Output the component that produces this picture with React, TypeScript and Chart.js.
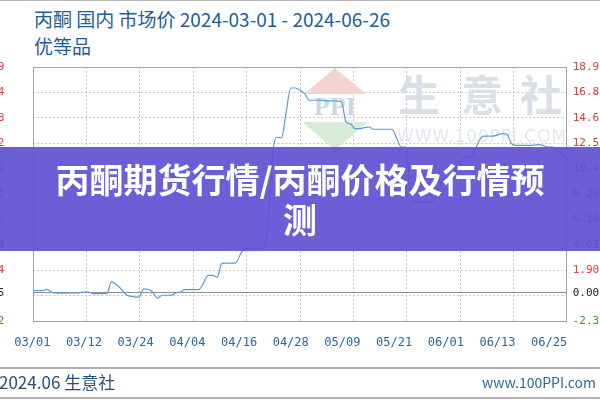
import React, { useEffect, useRef } from "react";
import { Chart, registerables } from "chart.js";

Chart.register(...registerables);

const titleLine1 = "丙酮 国内 市场价 2024-03-01 - 2024-06-26";
const titleLine2 = "优等品";
const bannerText = "丙酮期货行情/丙酮价格及行情预测";
const footerLeft = "2024.06 生意社";
const footerRight = "www.100PPI.com";
const watermarkChars = ["生", "意", "社"];
const watermarkUrl = "WWW.100PPI.COM";

// x-axis date labels (evenly laid out under the plot)
const dateLabels = ["03/01", "03/12", "03/24", "04/04", "04/16", "04/28", "05/09", "05/21", "06/01", "06/13", "06/25"];

// daily change vs. first day (%), 2024-03-01 .. 2024-06-25
const changePct = [
  0.19, 0.19, 0.19, 0.30, 0.05, -0.03, -0.02, -0.02, -0.01, -0.01,
  0.00, 0.07, 0.07, -0.06, -0.06, -0.06, -0.05, 0.95, 0.70, 0.38,
  -0.10, -0.28, -0.33, -0.35, 0.33, 0.30, 0.05, -0.45, -0.20, -0.20,
  -0.20, 0.00, 0.07, 0.27, 0.27, 0.27, 0.27, 0.80, 1.47, 1.47,
  1.30, 2.48, 2.50, 2.50, 2.50, 3.20, 3.71, 3.74, 3.74, 3.74,
  3.74, 5.50, 11.50, 13.05, 13.00, 15.20, 17.18, 17.18, 17.00, 16.70,
  16.15, 16.15, 16.15, 16.12, 16.10, 16.10, 16.08, 16.05, 14.33, 14.15,
  13.77, 13.77, 13.85, 13.91, 13.72, 13.72, 13.72, 13.72, 13.72, 13.00,
  12.23, 12.23, 8.30, 7.65, 7.59, 7.59, 7.59, 7.65, 8.80, 9.45,
  9.70, 9.86, 10.50, 11.10, 11.39, 11.39, 11.90, 12.80, 13.15, 13.15,
  13.15, 13.25, 13.36, 13.30, 12.50, 12.37, 12.37, 12.37, 12.37, 12.40,
  12.43, 12.35, 12.23, 12.23, 12.00, 11.60, 11.39,
];

// y ticks (percent, right axis) and the matching price labels (left axis)
const pctTicks = [-2.36, -0.23, 0, 1.9, 4.03, 6.16, 8.29, 10.42, 12.55, 14.68, 16.81, 18.94];
const pctLabels = ["-2.36", "", "0.00", "1.90", "4.03", "6.16", "8.29", "10.42", "12.55", "14.68", "16.81", "18.94"];
const priceLabels = ["7132", "", "7305", "7444", "7599", "7755", "7911", "8065", "8222", "8378", "8534", "8689"];

const RED = "#e23b36";
const GREEN = "#2f9e3a";
const BLACK = "#222222";
const BORDER = "#a3a3a3";
const GRID = "#c6c6c6";
const BASE = "#8f8f8f";

const yMin = pctTicks[0];
const yMax = pctTicks[pctTicks.length - 1];
const xMax = changePct.length - 1;

const isEdgePct = (v: number) => v === yMin || v === yMax;
const signColor = (v: number) => (v > 0 ? RED : v < 0 ? GREEN : BLACK);

export default function App() {
  const ref = useRef<HTMLCanvasElement>(null);

  useEffect(() => {
    document.body.style.margin = "0";
    const canvas = ref.current!;

    const watermark = {
      id: "watermark",
      beforeDatasetsDraw(chart: any) {
        const ctx = chart.ctx as CanvasRenderingContext2D;
        ctx.save();
        // logo roof
        ctx.fillStyle = "#f3d3d0";
        ctx.beginPath();
        ctx.moveTo(335, 68);
        ctx.lineTo(304, 94);
        ctx.lineTo(366, 94);
        ctx.closePath();
        ctx.fill();
        // logo text
        ctx.fillStyle = "#cdd6e6";
        ctx.font = "bold 26px 'Liberation Serif', serif";
        ctx.textAlign = "center";
        ctx.textBaseline = "middle";
        ctx.fillText("PPI", 335, 108);
        // logo green triangle
        ctx.fillStyle = "#d7ecd6";
        ctx.beginPath();
        ctx.moveTo(302, 122);
        ctx.lineTo(368, 122);
        ctx.lineTo(335, 150);
        ctx.closePath();
        ctx.fill();
        // big characters
        ctx.fillStyle = "#dbe0e8";
        ctx.font = "bold 42px 'Noto Sans CJK SC', sans-serif";
        const cx = [419, 482, 541];
        watermarkChars.forEach((c, i) => ctx.fillText(c, cx[i], 95));
        // url
        ctx.fillStyle = "#e3e7ee";
        ctx.font = "17px 'DejaVu Sans', sans-serif";
        (ctx as any).letterSpacing = "1px";
        ctx.fillText(watermarkUrl, 482, 138, 170);
        ctx.restore();
      },
    };

    const chart = new Chart(canvas, {
      type: "line",
      data: {
        datasets: [
          {
            data: changePct.map((v, i) => ({ x: i, y: v })),
            borderColor: "#5b9bd5",
            borderWidth: 1.2,
            pointRadius: 0,
            cubicInterpolationMode: "monotone",
            xAxisID: "x",
            yAxisID: "y",
          },
        ],
      },
      options: {
        animation: false,
        responsive: false,
        maintainAspectRatio: false,
        layout: { padding: { top: 67, bottom: 49, left: 0, right: 0 } },
        plugins: { legend: { display: false }, tooltip: { enabled: false } },
        scales: {
          x: {
            type: "linear",
            position: "bottom",
            weight: 0,
            min: 0,
            max: xMax,
            afterBuildTicks: (s: any) => {
              s.ticks = Array.from({ length: 11 }, (_, i) => ({ value: (i * xMax) / 10 }));
            },
            afterFit: (s: any) => {
              s.height = 0;
            },
            ticks: { display: false },
            grid: {
              drawTicks: false,
              color: (c: any) =>
                c.tick && (c.tick.value === 0 || c.tick.value === xMax) ? BORDER : GRID,
            },
            border: {
              display: true,
              color: BORDER,
              dash: (c: any) =>
                !c.tick || c.tick.value === 0 || c.tick.value === xMax ? [] : [2, 2],
            },
          },
          x2: {
            type: "linear",
            position: "bottom",
            weight: 1,
            min: 0,
            max: 10.32,
            afterBuildTicks: (s: any) => {
              s.ticks = dateLabels.map((_, i) => ({ value: i }));
            },
            afterFit: (s: any) => {
              s.height = 30;
            },
            grid: { display: false, drawTicks: false },
            border: { display: false },
            ticks: {
              autoSkip: false,
              maxRotation: 0,
              padding: 15,
              labelOffset: -1,
              color: "#2a66a6",
              font: { family: "'DejaVu Sans Mono', monospace", size: 12 },
              callback: (v: any) => dateLabels[v as number] ?? "",
            },
          },
          y: {
            type: "linear",
            position: "right",
            min: yMin,
            max: yMax,
            afterBuildTicks: (s: any) => {
              s.ticks = pctTicks.map((v) => ({ value: v }));
            },
            afterFit: (s: any) => {
              s.width = 33.3;
            },
            ticks: {
              autoSkip: false,
              padding: 6,
              font: { family: "'DejaVu Sans Mono', monospace", size: 11 },
              color: (c: any) => signColor(c.tick ? c.tick.value : 0),
              callback: (v: any) => {
                const i = pctTicks.indexOf(v as number);
                return i >= 0 ? pctLabels[i] : "";
              },
            },
            grid: {
              drawTicks: false,
              color: (c: any) => {
                const v = c.tick ? c.tick.value : NaN;
                if (v === 0) return BASE;
                if (isEdgePct(v)) return BORDER;
                return GRID;
              },
            },
            border: {
              display: true,
              color: BORDER,
              dash: (c: any) => {
                if (!c.tick) return [];
                const v = c.tick.value;
                return v === 0 || isEdgePct(v) ? [] : [2, 2];
              },
            },
          },
          yL: {
            type: "linear",
            position: "left",
            min: yMin,
            max: yMax,
            afterBuildTicks: (s: any) => {
              s.ticks = pctTicks.map((v) => ({ value: v }));
            },
            afterFit: (s: any) => {
              s.width = 33.3;
            },
            ticks: {
              autoSkip: false,
              padding: 29,
              font: { family: "'DejaVu Sans Mono', monospace", size: 11 },
              color: (c: any) => signColor(c.tick ? c.tick.value : 0),
              callback: (v: any) => {
                const i = pctTicks.indexOf(v as number);
                return i >= 0 ? priceLabels[i] : "";
              },
            },
            grid: { display: false, drawTicks: false },
            border: { display: true, color: BORDER },
          },
        },
      },
      plugins: [watermark],
    } as any);

    return () => chart.destroy();
  }, []);

  const cjk = "'Noto Sans CJK SC', 'Noto Sans', sans-serif";

  return (
    <div
      style={{
        position: "relative",
        width: 600,
        height: 400,
        overflow: "hidden",
        background: "#ffffff",
        fontFamily: cjk,
      }}
    >
      <div style={{ position: "absolute", left: 0, top: 0, width: 600, height: 1, background: "#b5b5b5" }} />
      <div
        style={{
          position: "absolute",
          left: 34,
          top: 5,
          fontSize: 19,
          lineHeight: "27px",
          color: "#1f5c9c",
          whiteSpace: "nowrap",
        }}
      >
        {titleLine1}
        <br />
        {titleLine2}
      </div>
      <canvas ref={ref} width={600} height={400} style={{ position: "absolute", left: 0, top: 0, display: "block" }} />
      <div style={{ position: "absolute", left: 0, top: 367, width: 600, height: 2, background: "#b0b0b0" }} />
      <div
        style={{
          position: "absolute",
          left: -1,
          top: 371,
          fontSize: 17,
          lineHeight: "22px",
          color: "#274f7c",
          whiteSpace: "nowrap",
        }}
      >
        {footerLeft}
      </div>
      <div
        style={{
          position: "absolute",
          right: 4,
          top: 372,
          fontSize: 14,
          lineHeight: "20px",
          color: "#2c6b9c",
          whiteSpace: "nowrap",
        }}
      >
        {footerRight}
      </div>
      <div style={{ position: "absolute", left: 0, top: 397, width: 600, height: 2, background: "#b0b0b0" }} />
      <div
        style={{
          position: "absolute",
          left: 0,
          top: 147,
          width: 600,
          height: 104,
          boxSizing: "border-box",
          padding: "0 45px",
          background: "rgba(94, 80, 210, 0.92)",
          display: "flex",
          alignItems: "center",
          justifyContent: "center",
        }}
      >
        <div
          style={{
            color: "#ffffff",
            fontSize: 34,
            fontWeight: 700,
            lineHeight: "40px",
            textAlign: "center",
            fontFamily: cjk,
          }}
        >
          {bannerText}
        </div>
      </div>
    </div>
  );
}
